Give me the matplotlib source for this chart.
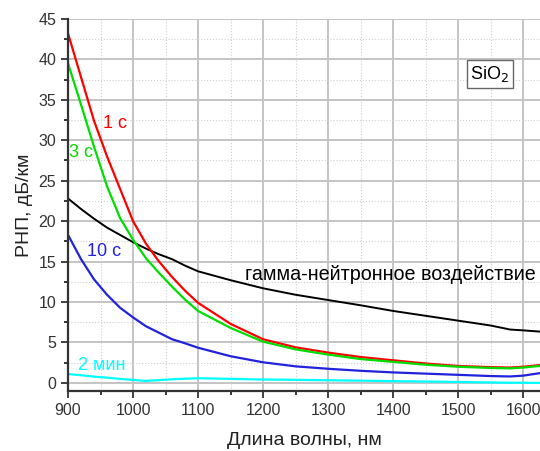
import matplotlib.pyplot as plt
from matplotlib.ticker import MultipleLocator

plt.rcParams['font.family'] = ['Liberation Sans', 'DejaVu Sans']

# длины волн, нм
wl = [900, 920, 940, 960, 980, 1000, 1020, 1040, 1060, 1080, 1100, 1150, 1200, 1250,
      1300, 1350, 1400, 1450, 1500, 1550, 1580, 1600, 1625]

# РНП, дБ/км
rip_1s = [43.2, 37.8, 32.4, 28.0, 24.0, 20.0, 17.2, 15.0, 13.1, 11.4, 9.9, 7.3, 5.4, 4.4,
          3.75, 3.2, 2.8, 2.4, 2.1, 1.95, 1.9, 2.0, 2.2]
rip_3s = [39.5, 34.4, 29.2, 24.3, 20.4, 17.7, 15.4, 13.6, 11.9, 10.3, 8.9, 6.8, 5.1, 4.15,
          3.5, 2.95, 2.6, 2.25, 2.0, 1.85, 1.8, 1.9, 2.1]
rip_10s = [18.3, 15.3, 12.8, 10.9, 9.3, 8.1, 7.0, 6.2, 5.4, 4.9, 4.35, 3.3, 2.55, 2.05,
           1.75, 1.5, 1.3, 1.15, 1.0, 0.85, 0.8, 0.9, 1.2]
rip_2min = [1.1, 0.95, 0.78, 0.65, 0.5, 0.37, 0.25, 0.35, 0.45, 0.52, 0.58, 0.5, 0.42, 0.38,
            0.33, 0.28, 0.22, 0.17, 0.12, 0.06, 0.02, 0.02, 0.0]
rip_gn = [22.8, 21.5, 20.3, 19.2, 18.3, 17.4, 16.6, 15.9, 15.3, 14.5, 13.8, 12.7, 11.7, 10.9,
          10.25, 9.6, 8.9, 8.3, 7.7, 7.1, 6.6, 6.5, 6.35]

fig = plt.figure(figsize=(5.4, 4.51), dpi=100)
ax = fig.add_axes([0.126, 0.133, 0.874, 0.825])

ax.plot(wl, rip_gn, color='black', lw=1.4)
ax.plot(wl, rip_1s, color='#ff0000', lw=1.6)
ax.plot(wl, rip_3s, color='#00dd00', lw=1.6)
ax.plot(wl, rip_10s, color='#2222dd', lw=1.6)
ax.plot(wl, rip_2min, color='#00ffff', lw=1.6)

ax.set_xlim(900, 1626)
ax.set_ylim(-1, 45)
ax.xaxis.set_major_locator(MultipleLocator(100))
ax.xaxis.set_minor_locator(MultipleLocator(50))
ax.yaxis.set_major_locator(MultipleLocator(5))
ax.yaxis.set_minor_locator(MultipleLocator(2.5))

ax.grid(which='major', color='#c4c4c4', lw=1.4)
ax.grid(which='minor', color='#cfcfcf', lw=0.8, ls=':')
ax.set_axisbelow(True)

for s in ['top', 'right']:
    ax.spines[s].set_visible(False)
for s in ['left', 'bottom']:
    ax.spines[s].set_linewidth(1.6)
    ax.spines[s].set_color('#333333')

ax.tick_params(which='major', direction='out', length=5, width=1.3,
               labelsize=11.5, colors='#333333')
ax.tick_params(which='minor', direction='out', length=3, width=1.1)

ax.set_xlabel('Длина волны, нм', fontsize=14, color='#222222', labelpad=10)
ax.set_ylabel('РНП, дБ/км', fontsize=14, color='#222222')

ax.text(954, 32.1, '1 с', color='#ff0000', fontsize=13, va='center')
ax.text(901.5, 28.5, '3 с', color='#00dd00', fontsize=13, va='center')
ax.text(929, 16.2, '10 с', color='#2222dd', fontsize=13, va='center')
ax.text(915, 2.2, '2 мин', color='#00ffff', fontsize=13, va='center')
ax.text(1172, 13.4, 'гамма-нейтронное воздействие', color='black', fontsize=14.2,
        va='center')
ax.text(1549, 38.2, 'SiO$_2$', color='black', fontsize=13, ha='center', va='center',
        bbox=dict(boxstyle='square,pad=0.2', fc='white', ec='#666666', lw=1))

fig.savefig('out.png', dpi=100)
